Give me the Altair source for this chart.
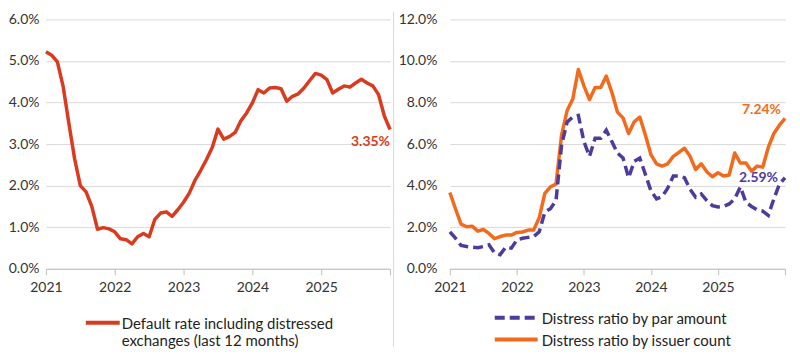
import json
import altair as alt
import pandas as pd

# ---------------- data ----------------
months = list(range(61))  # Jan 2021 ... Jan 2026 (monthly index)
year_labels = ["2021", "2022", "2023", "2024", "2025"]

default_rate = [5.22, 5.14, 4.98, 4.39, 3.50, 2.65, 2.00, 1.85, 1.50, 0.95,
                0.99, 0.96, 0.89, 0.72, 0.70, 0.60, 0.77, 0.85, 0.77, 1.19,
                1.34, 1.37, 1.26, 1.42, 1.60, 1.82, 2.13, 2.37, 2.63, 2.92,
                3.36, 3.12, 3.18, 3.28, 3.56, 3.75, 3.99, 4.31, 4.23, 4.35,
                4.36, 4.33, 4.03, 4.15, 4.21, 4.35, 4.53, 4.70, 4.66, 4.55,
                4.23, 4.32, 4.40, 4.37, 4.47, 4.56, 4.47, 4.40, 4.19, 3.68,
                3.35]

issuer_count = [3.67, 2.89, 2.15, 2.02, 2.05, 1.81, 1.89, 1.70, 1.45, 1.55,
                1.62, 1.62, 1.75, 1.77, 1.86, 1.86, 2.46, 3.63, 3.94, 4.07,
                6.44, 7.62, 8.17, 9.59, 8.80, 8.14, 8.72, 8.72, 9.27, 8.49,
                7.54, 7.26, 6.51, 7.07, 7.30, 6.44, 5.49, 5.05, 4.94, 5.05,
                5.41, 5.60, 5.80, 5.41, 4.78, 5.05, 4.67, 4.43, 4.62, 4.46,
                4.51, 5.57, 5.09, 5.09, 4.70, 4.94, 4.89, 5.84, 6.51, 6.91,
                7.24]

par_amount = [1.78, 1.47, 1.12, 1.07, 1.04, 1.01, 1.07, 1.15, 0.76, 0.68,
              1.04, 0.99, 1.39, 1.47, 1.51, 1.55, 1.78, 2.73, 2.89, 3.28,
              5.96, 7.07, 7.30, 7.38, 6.12, 5.41, 6.28, 6.28, 6.67, 6.12,
              5.57, 5.33, 4.38, 5.17, 5.33, 4.54, 3.75, 3.36, 3.47, 3.88,
              4.46, 4.46, 4.38, 3.83, 3.44, 3.60, 3.28, 3.04, 2.97, 3.00,
              3.12, 3.36, 3.94, 3.20, 3.00, 2.84, 2.78, 2.57, 3.36, 4.07,
              4.38]

left_legend = ["Default rate including distressed", "exchanges (last 12 months)"]
right_legend = ["Distress ratio by par amount", "Distress ratio by issuer count"]

left_note = "3.35%"
issuer_note = "7.24%"
par_note = "2.59%"
par_note_level = 4.35  # vertical position of the 2.59% label

left_ticks = [0, 1, 2, 3, 4, 5, 6]
right_ticks = [0, 2, 4, 6, 8, 10, 12]

# ---------------- styling ----------------
RED = "#d83b20"
ORANGE = "#f26b1d"
PURPLE = "#4e3c9c"
GRID = "#d9d9d9"
AXIS = "#bfbfbf"
TXT = "#333333"
FONT = "Lato"

W_L, W_R, H = 345, 336, 250

label_expr_x = "datum.value >= 60 ? '' : " + json.dumps(year_labels) + "[datum.value / 12]"


def x_enc():
    return alt.X(
        "m:Q",
        scale=alt.Scale(domain=[0, 60], nice=False, zero=False),
        axis=alt.Axis(values=[0, 12, 24, 36, 48, 60], labelExpr=label_expr_x,
                      grid=False, domainColor=AXIS, tickColor=AXIS, tickSize=6,
                      labelPadding=6, labelFontSize=14, labelColor=TXT,
                      labelFont=FONT, labelAngle=0, title=None,
                      labelOverlap=False, labelFlush=False),
    )


def y_axis(ticks, pad):
    return alt.Axis(values=ticks, labelExpr="format(datum.value, '.1f') + '%'",
                    domain=False, ticks=False, gridColor=GRID, gridWidth=1,
                    labelPadding=pad, labelFontSize=14, labelColor=TXT,
                    labelFont=FONT, title=None)


one = pd.DataFrame({"a": [0]})

# ---------------- left panel ----------------
df_l = pd.DataFrame({"m": months, "v": default_rate})
line_l = alt.Chart(df_l).mark_line(color=RED, strokeWidth=3.5, strokeJoin="round").encode(
    x=x_enc(),
    y=alt.Y("v:Q", scale=alt.Scale(domain=[0, 6], nice=False), axis=y_axis(left_ticks, 7)))

note_l = alt.Chart(pd.DataFrame({"m": [months[-1]], "v": [default_rate[-1]], "t": [left_note]})).mark_text(
    align="right", baseline="middle", dy=13, color=RED, font=FONT, fontSize=14, fontWeight="bold"
).encode(x="m:Q", y="v:Q", text="t:N")

leg_l_line = alt.Chart(one).mark_rule(color=RED, strokeWidth=4).encode(
    x=alt.value(40), x2=alt.value(74), y=alt.value(304))
leg_l_t1 = alt.Chart(one).mark_text(align="left", baseline="middle", font=FONT, fontSize=15,
                                     color="#222222").encode(
    x=alt.value(76), y=alt.value(305), text=alt.value(left_legend[0]))
leg_l_t2 = alt.Chart(one).mark_text(align="left", baseline="middle", font=FONT, fontSize=15,
                                     color="#222222").encode(
    x=alt.value(76), y=alt.value(322), text=alt.value(left_legend[1]))
sep = alt.Chart(one).mark_rule(color=GRID, strokeWidth=1).encode(
    x=alt.value(W_L + 3.5), y=alt.value(-8), y2=alt.value(328))

left = alt.layer(line_l, note_l, leg_l_line, leg_l_t1, leg_l_t2, sep).properties(width=W_L, height=H)

# ---------------- right panel ----------------
df_r = pd.DataFrame({"m": months, "par": par_amount, "iss": issuer_count})
line_iss = alt.Chart(df_r).mark_line(color=ORANGE, strokeWidth=3.5, strokeJoin="round").encode(
    x=x_enc(),
    y=alt.Y("iss:Q", scale=alt.Scale(domain=[0, 12], nice=False), axis=y_axis(right_ticks, 13)))
line_par = alt.Chart(df_r).mark_line(color=PURPLE, strokeWidth=3.5, strokeDash=[10, 5]).encode(
    x="m:Q", y="par:Q")

note_iss = alt.Chart(pd.DataFrame({"m": [months[-1]], "iss": [issuer_count[-1]], "t": [issuer_note]})).mark_text(
    align="right", baseline="middle", dx=-4, dy=-8, color=ORANGE, font=FONT, fontSize=14, fontWeight="bold"
).encode(x="m:Q", y="iss:Q", text="t:N")
note_par = alt.Chart(pd.DataFrame({"m": [months[-1]], "iss": [par_note_level], "t": [par_note]})).mark_text(
    align="right", baseline="middle", dx=-7, color=PURPLE, font=FONT, fontSize=14, fontWeight="bold"
).encode(x="m:Q", y="iss:Q", text="t:N")

leg_r_line1 = alt.Chart(one).mark_rule(color=PURPLE, strokeWidth=4, strokeDash=[10, 5]).encode(
    x=alt.value(45), x2=alt.value(87), y=alt.value(299))
leg_r_line2 = alt.Chart(one).mark_rule(color=ORANGE, strokeWidth=4).encode(
    x=alt.value(45), x2=alt.value(88), y=alt.value(321))
leg_r_t1 = alt.Chart(one).mark_text(align="left", baseline="middle", font=FONT, fontSize=15,
                                     color="#222222").encode(
    x=alt.value(92), y=alt.value(300), text=alt.value(right_legend[0]))
leg_r_t2 = alt.Chart(one).mark_text(align="left", baseline="middle", font=FONT, fontSize=15,
                                     color="#222222").encode(
    x=alt.value(92), y=alt.value(322), text=alt.value(right_legend[1]))

right = alt.layer(line_iss, line_par, note_iss, note_par, leg_r_line1, leg_r_line2,
                  leg_r_t1, leg_r_t2).properties(width=W_R, height=H)

chart = alt.hconcat(left, right, spacing=4).properties(
    padding={"top": 2, "left": 0, "right": 0, "bottom": 0}
).configure_view(strokeWidth=0)

chart.save("out.html", embed_options={"renderer": "svg", "actions": False})
